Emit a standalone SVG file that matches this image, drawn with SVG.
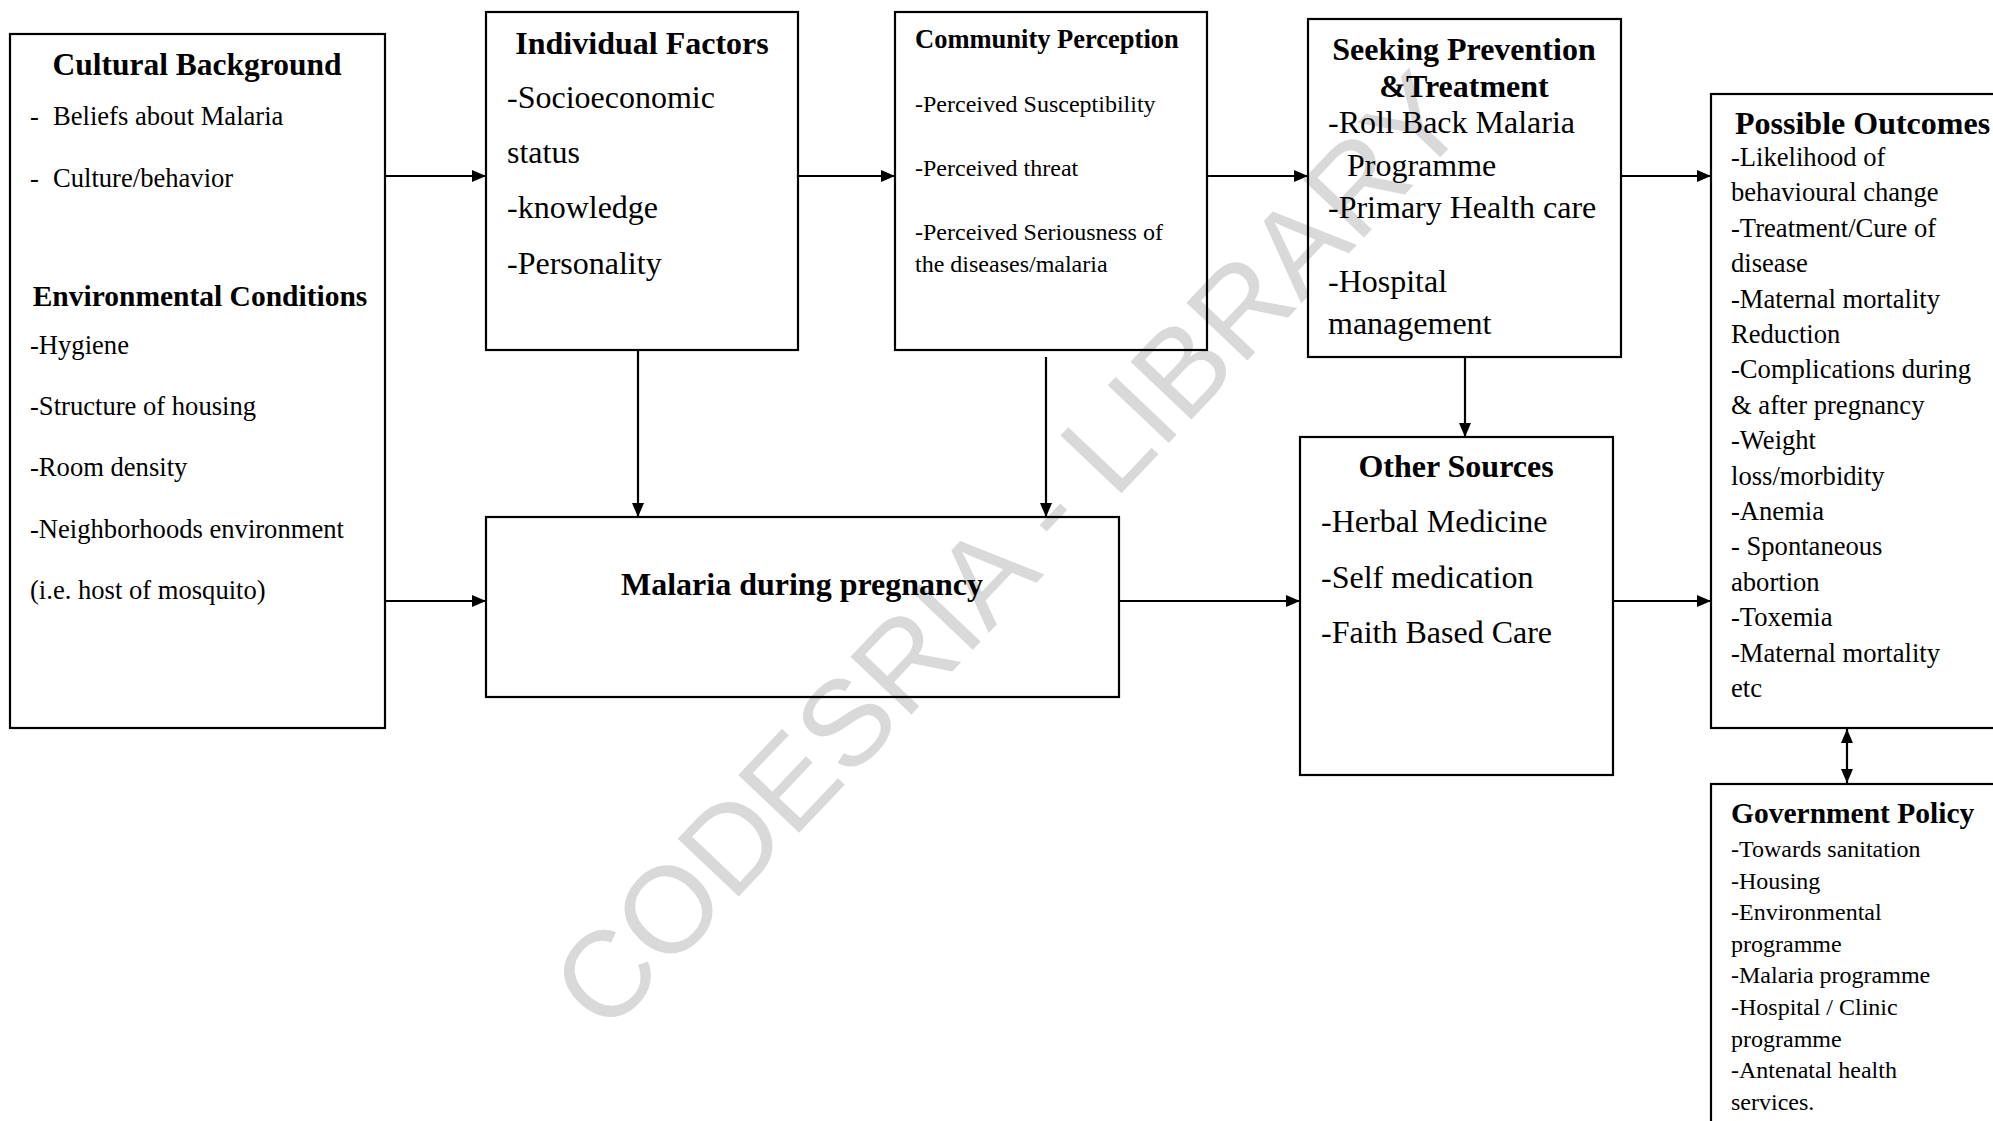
<svg xmlns="http://www.w3.org/2000/svg" width="1993" height="1121" viewBox="0 0 1993 1121">
<defs>
<style>
text{font-family:"Liberation Serif","Times New Roman",serif;fill:#000}
.t{font-weight:bold;font-size:32px}
.mid{text-anchor:middle}
.b32{font-size:32px}
.b26{font-size:26.6px}
.b25{font-size:26.6px}
.b24{font-size:24px}
.box{fill:none;stroke:#000;stroke-width:2.2}
.con{fill:none;stroke:#000;stroke-width:2.2}
.wm{font-family:"Liberation Sans",Arial,sans-serif;font-size:122px;fill:#d9d9d9}
</style>
<marker id="ah" viewBox="0 0 14 12" refX="14" refY="6" markerWidth="14" markerHeight="12" markerUnits="userSpaceOnUse" orient="auto-start-reverse"><path d="M0,0 L14,6 L0,12 z" fill="#000"/></marker>
</defs>
<rect width="1993" height="1121" fill="#fff"/>
<text class="wm mid" x="1039" y="580" transform="rotate(-46.5 1039 580)">CODESRIA - LIBRARY</text>

<g id="cultural">
<rect class="box" x="10" y="34" width="375" height="694"/>
<text class="t mid" x="197" y="75" style="font-size:31.5px">Cultural Background</text>
<text class="b25" y="125"><tspan x="30">-</tspan><tspan x="53">Beliefs about Malaria</tspan></text>
<text class="b25" y="187"><tspan x="30">-</tspan><tspan x="53">Culture/behavior</tspan></text>
<text class="t mid" x="200" y="306" style="font-size:29.5px">Environmental Conditions</text>
<text class="b25" x="30" y="354">-Hygiene</text>
<text class="b25" x="30" y="415">-Structure of housing</text>
<text class="b25" x="30" y="476">-Room density</text>
<text class="b25" x="30" y="538">-Neighborhoods environment</text>
<text class="b25" x="30" y="599">(i.e. host of mosquito)</text>
</g>

<g id="individual">
<rect class="box" x="486" y="12" width="312" height="338"/>
<text class="t mid" x="642" y="54">Individual Factors</text>
<text class="b32" x="507" y="108">-Socioeconomic</text>
<text class="b32" x="507" y="163">status</text>
<text class="b32" x="507" y="218">-knowledge</text>
<text class="b32" x="507" y="274">-Personality</text>
</g>

<g id="community">
<rect class="box" x="895" y="12" width="312" height="338"/>
<text class="t" x="915" y="48" style="font-size:26.5px">Community Perception</text>
<text class="b24" x="915" y="112">-Perceived Susceptibility</text>
<text class="b24" x="915" y="176">-Perceived threat</text>
<text class="b24" x="915" y="240">-Perceived Seriousness of</text>
<text class="b24" x="915" y="272">the diseases/malaria</text>
</g>

<g id="seeking">
<rect class="box" x="1308" y="19" width="313" height="338"/>
<text class="t mid" x="1464" y="60">Seeking Prevention</text>
<text class="t mid" x="1464" y="97">&amp;Treatment</text>
<text class="b32" x="1328" y="133">-Roll Back Malaria</text>
<text class="b32" x="1347" y="176">Programme</text>
<text class="b32" x="1328" y="218">-Primary Health care</text>
<text class="b32" x="1328" y="292">-Hospital</text>
<text class="b32" x="1328" y="334">management</text>
</g>

<g id="malaria">
<rect class="box" x="486" y="517" width="633" height="180"/>
<text class="t mid" x="802" y="595">Malaria during pregnancy</text>
</g>

<g id="other">
<rect class="box" x="1300" y="437" width="313" height="338"/>
<text class="t mid" x="1456" y="477">Other Sources</text>
<text class="b32" x="1321" y="532">-Herbal Medicine</text>
<text class="b32" x="1321" y="588">-Self medication</text>
<text class="b32" x="1321" y="643">-Faith Based Care</text>
</g>

<g id="outcomes">
<rect class="box" x="1711" y="94" width="300" height="634"/>
<text class="t" x="1735" y="134">Possible Outcomes</text>
<text class="b26" x="1731" y="166">-Likelihood of</text>
<text class="b26" x="1731" y="201.4">behavioural change</text>
<text class="b26" x="1731" y="236.8">-Treatment/Cure of</text>
<text class="b26" x="1731" y="272.2">disease</text>
<text class="b26" x="1731" y="307.6">-Maternal mortality</text>
<text class="b26" x="1731" y="343">Reduction</text>
<text class="b26" x="1731" y="378.4">-Complications during</text>
<text class="b26" x="1731" y="413.8">&amp; after pregnancy</text>
<text class="b26" x="1731" y="449.2">-Weight</text>
<text class="b26" x="1731" y="484.6">loss/morbidity</text>
<text class="b26" x="1731" y="520">-Anemia</text>
<text class="b26" x="1731" y="555.4">- Spontaneous</text>
<text class="b26" x="1731" y="590.8">abortion</text>
<text class="b26" x="1731" y="626.2">-Toxemia</text>
<text class="b26" x="1731" y="661.6">-Maternal mortality</text>
<text class="b26" x="1731" y="697">etc</text>
</g>

<g id="government">
<rect class="box" x="1711" y="784" width="300" height="360"/>
<text class="t" x="1731" y="823" style="font-size:29.5px">Government Policy</text>
<text class="b24" x="1731" y="857">-Towards sanitation</text>
<text class="b24" x="1731" y="888.6">-Housing</text>
<text class="b24" x="1731" y="920.2">-Environmental</text>
<text class="b24" x="1731" y="951.8">programme</text>
<text class="b24" x="1731" y="983.4">-Malaria programme</text>
<text class="b24" x="1731" y="1015">-Hospital / Clinic</text>
<text class="b24" x="1731" y="1046.6">programme</text>
<text class="b24" x="1731" y="1078.2">-Antenatal health</text>
<text class="b24" x="1731" y="1109.8">services.</text>
</g>

<g id="connectors" class="con" marker-end="url(#ah)">
<line x1="385" y1="176" x2="486" y2="176"/>
<line x1="385" y1="601" x2="486" y2="601"/>
<line x1="798" y1="176" x2="895" y2="176"/>
<line x1="1207" y1="176" x2="1308" y2="176"/>
<line x1="1621" y1="176" x2="1711" y2="176"/>
<line x1="638" y1="350" x2="638" y2="517"/>
<line x1="1046" y1="357" x2="1046" y2="517"/>
<line x1="1465" y1="357" x2="1465" y2="437"/>
<line x1="1119" y1="601" x2="1300" y2="601"/>
<line x1="1613" y1="601" x2="1711" y2="601"/>
<line x1="1847" y1="729" x2="1847" y2="783" marker-start="url(#ah)"/>
</g>
</svg>
